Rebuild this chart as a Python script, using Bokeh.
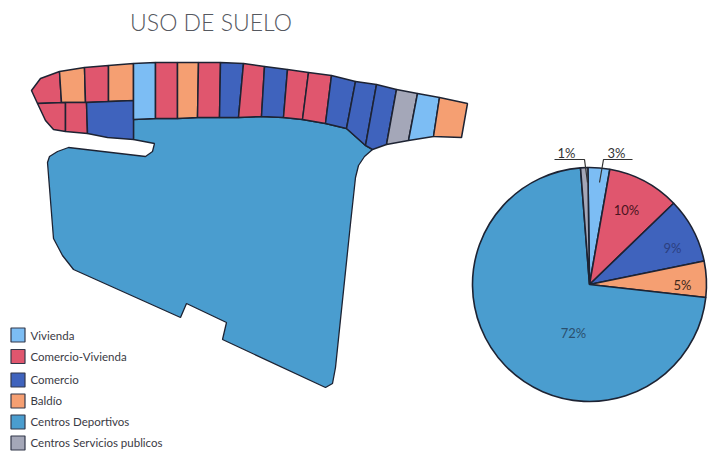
import math
from bokeh.plotting import figure
from bokeh.models import Range1d, ColumnDataSource
from bokeh.core.properties import value
from bokeh.embed import file_html
from bokeh.resources import INLINE

title_text = "USO DE SUELO"
categories = ["Vivienda", "Comercio-Vivienda", "Comercio", "Baldío", "Centros Deportivos", "Centros Servicios publicos"]
colors = ["#7cbdf4", "#e0566e", "#3f63bd", "#f59f72", "#4a9dcf", "#a4a7b8"]
shares = [3, 10, 9, 5, 72, 1]
share_labels = ["3%", "10%", "9%", "5%", "72%", "1%"]
share_text_colors = ["#333333", "#4a1420", "#2c3f80", "#40281a", "#2a4f6e", "#333333"]
share_label_x = [616, 626, 672, 682, 573, 566]
share_label_y = [152, 209, 247, 284, 332, 152]
pie_center_x = 589
pie_center_y = 284
pie_radius = 117
pie_start_deg = -0.8
leader_x = [[554, 584, 587], [632, 603, 599]]
leader_y = [[159, 159, 182], [159, 159, 182]]

# Parcels of the map: (category index, outline x, outline y)
parcel_cat = [1, 3, 1, 3, 1, 1, 2, 0, 1, 3, 1, 2, 1, 2, 1, 1, 2, 2, 2, 5, 0, 3]
parcel_x = [
    [31, 40, 59, 61, 37], [59, 84, 85, 61], [84, 108, 108, 85], [108, 133, 133, 108],
    [37, 65, 65, 53, 45], [65, 86, 87, 65], [86, 133, 133, 107, 87],
    [133, 155, 155, 133], [155, 177, 177, 155], [177, 198, 197, 177], [198, 220, 219, 197],
    [220, 243, 238, 219], [243, 264, 261, 238], [264, 287, 283, 261], [287, 308, 302, 283],
    [308, 331, 325, 302], [331, 355, 346, 325], [355, 376, 365, 346], [376, 396, 386, 372, 365],
    [396, 417, 408, 386], [417, 439, 433, 408], [439, 467, 461, 433],
]
parcel_y = [
    [90, 78, 71, 102, 103], [71, 67, 102, 102], [67, 65, 101, 102], [65, 63, 100, 101],
    [103, 102, 131, 129, 120], [102, 102, 133, 131], [102, 100, 139, 137, 133],
    [63, 62, 118, 119], [62, 62, 118, 118], [62, 62, 117, 118], [62, 62, 117, 117],
    [62, 63, 117, 117], [63, 66, 116, 117], [66, 69, 117, 116], [69, 72, 119, 117],
    [72, 75, 123, 119], [75, 81, 128, 123], [81, 84, 145, 128], [84, 89, 144, 149, 145],
    [89, 93, 140, 144], [93, 97, 136, 140], [97, 103, 137, 136],
]
sports_x = [133, 155, 177, 197, 219, 238, 261, 283, 302, 325, 346, 365, 372, 364, 358, 355, 350, 335, 332, 325,
            222, 226, 186, 180, 73, 62, 53, 47, 49, 57, 68, 145, 152, 154, 133]
sports_y = [119, 118, 118, 117, 117, 117, 116, 117, 119, 123, 128, 145, 149, 156, 165, 177, 223, 367, 383, 387,
            339, 322, 303, 317, 269, 255, 238, 162, 156, 151, 147, 156, 151, 143, 139]

legend_box_y = [334.5, 356, 379.5, 400.5, 421.5, 442.5]
legend_text_y = [335, 356, 379, 400, 421, 442]

p = figure(width=710, height=452, x_range=Range1d(0, 710), y_range=Range1d(452, 0),
           output_backend="svg", toolbar_location=None, min_border=0,
           background_fill_color="#ffffff", border_fill_color="#ffffff", outline_line_color=None)
p.axis.visible = False
p.grid.visible = False

INK = "#1d2333"

p.patch(sports_x, sports_y, fill_color=colors[4], line_color=INK, line_width=1.3)
p.patches(parcel_x, parcel_y, fill_color=[colors[c] for c in parcel_cat], line_color=INK, line_width=1.5)

# Pie, clockwise from the top, in screen terms
starts, ends = [], []
cum = pie_start_deg
for s in shares:
    a0 = cum
    a1 = cum + s * 3.6
    starts.append(math.radians(90 - a1))
    ends.append(math.radians(90 - a0))
    cum = a1
pie = ColumnDataSource(dict(x=[pie_center_x] * len(shares), y=[pie_center_y] * len(shares),
                            start=starts, end=ends, color=colors))
p.wedge(x="x", y="y", radius=pie_radius, start_angle="start", end_angle="end", fill_color="color",
        line_color=INK, line_width=1.6, source=pie)
p.multi_line(leader_x, leader_y, line_color="#333333", line_width=1.2)
p.text(share_label_x, share_label_y, text=share_labels, text_font=value("Lato"), text_font_size="13px",
       text_align="center", text_baseline="middle", text_color=share_text_colors)

# Legend
p.rect([17.5] * 6, legend_box_y, width=14, height=14, fill_color=colors, line_color="#33384a", line_width=1.2)
p.text([30] * 6, legend_text_y, text=categories, text_font=value("Lato"), text_font_size="11.5px",
       text_align="left", text_baseline="middle", text_color="#3a3a44")

# Title
p.text([210.5], [21], text=[title_text], text_font=value("Lato Light"), text_font_size="23px",
       text_align="center", text_baseline="middle", text_color="#55585f")

open("out.html", "w").write(file_html(p, INLINE))
